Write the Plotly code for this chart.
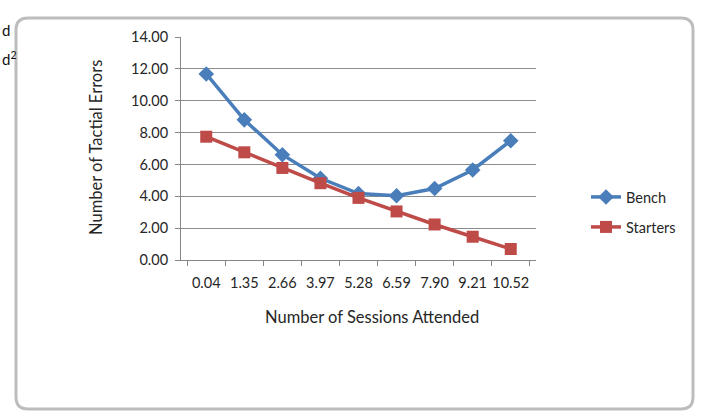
import plotly.graph_objects as go

sessions = ["0.04", "1.35", "2.66", "3.97", "5.28", "6.59", "7.90", "9.21", "10.52"]
bench = [11.68, 8.80, 6.61, 5.13, 4.17, 4.03, 4.49, 5.65, 7.49]
starters = [7.74, 6.76, 5.78, 4.82, 3.90, 3.05, 2.23, 1.46, 0.69]
y_ticks = [0, 2, 4, 6, 8, 10, 12, 14]
y_ticklabels = ["0.00", "2.00", "4.00", "6.00", "8.00", "10.00", "12.00", "14.00"]
x_title = "Number of Sessions Attended"
y_title = "Number of Tactial Errors"

W, H = 710, 416
L, R, T, B = 181, 536, 37, 260
FONT = "Lato, Open Sans, sans-serif"
TXT = "#262626"

# pixel -> paper (plot-area relative) coordinates
def px(x): return (x - L) / (R - L)
def py(y): return (B - y) / (B - T)

fig = go.Figure()
fig.add_trace(go.Scatter(x=sessions, y=bench, name="Bench", mode="lines+markers", legend="legend",
                         line=dict(color="#4a7ebb", width=3.5),
                         marker=dict(symbol="diamond", size=12, color="#4a7ebb")))
fig.add_trace(go.Scatter(x=sessions, y=starters, name="Starters", mode="lines+markers", legend="legend2",
                         line=dict(color="#be4b48", width=3.5),
                         marker=dict(symbol="square", size=12, color="#be4b48")))

leg_common = dict(xanchor="left", yanchor="middle", font=dict(size=14.5, color=TXT),
                  bgcolor="rgba(0,0,0,0)")
fig.update_layout(
    width=W, height=H,
    margin=dict(l=L, r=W - R, t=T, b=H - B, autoexpand=False),
    paper_bgcolor="white", plot_bgcolor="white",
    font=dict(family=FONT, size=14.5, color=TXT),
    showlegend=True,
    legend=dict(x=px(586), y=py(197), **leg_common),
    legend2=dict(x=px(586), y=py(227), **leg_common),
    xaxis=dict(type="category", showgrid=False, showline=True, linecolor="#868686", linewidth=1,
               ticks="outside", tickson="boundaries", ticklen=5, tickcolor="#868686",
               tickangle=0, automargin=False, ticklabelstandoff=10,
               tickfont=dict(size=14.5)),
    yaxis=dict(range=[0, 14], tickvals=y_ticks, ticktext=y_ticklabels, automargin=False,
               showgrid=True, gridcolor="#8c8c8c", gridwidth=1,
               showline=True, linecolor="#868686", ticks="outside", ticklen=5, tickcolor="#868686",
               zeroline=False, ticklabelstandoff=4, tickfont=dict(size=14.5)),
)

fig.add_annotation(x=px(372), y=py(317), xref="paper", yref="paper", text=x_title, showarrow=False,
                   xanchor="center", yanchor="middle", font=dict(size=16.5, color=TXT))
fig.add_annotation(x=px(96), y=py(148), xref="paper", yref="paper", text=y_title, showarrow=False,
                   textangle=-90, xanchor="center", yanchor="middle", font=dict(size=16.5, color=TXT))

r = 12
x0, x1, y0, y1 = 16, 693, 18, 409
path = (f"M {px(x0+r)},{py(y0)} L {px(x1-r)},{py(y0)} Q {px(x1)},{py(y0)} {px(x1)},{py(y0+r)} "
        f"L {px(x1)},{py(y1-r)} Q {px(x1)},{py(y1)} {px(x1-r)},{py(y1)} "
        f"L {px(x0+r)},{py(y1)} Q {px(x0)},{py(y1)} {px(x0)},{py(y1-r)} "
        f"L {px(x0)},{py(y0+r)} Q {px(x0)},{py(y0)} {px(x0+r)},{py(y0)} Z")
fig.add_shape(type="path", path=path, xref="paper", yref="paper",
              line=dict(color="#bdbdbd", width=3), layer="below")
fig.add_annotation(x=px(0), y=py(30), xref="paper", yref="paper", text="d", showarrow=False,
                   xanchor="left", yanchor="middle", font=dict(size=15, color="#111"))
fig.add_annotation(x=px(0), y=py(58), xref="paper", yref="paper", text="d<sup>2</sup>", showarrow=False,
                   xanchor="left", yanchor="middle", font=dict(size=15, color="#111"))

fig.write_html("out.html", config={"displayModeBar": False},
               post_script="document.body.style.margin='0';document.body.style.overflow='hidden';")
